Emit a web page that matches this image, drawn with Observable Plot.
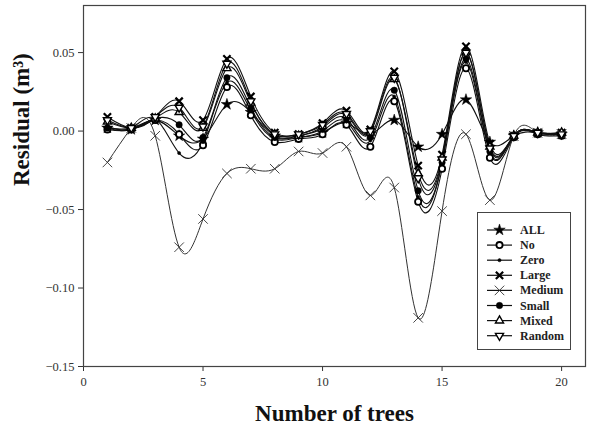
<!DOCTYPE html>
<html>
<head>
<meta charset="utf-8">
<script src="https://cdn.jsdelivr.net/npm/d3@7"></script>
<script src="https://cdn.jsdelivr.net/npm/@observablehq/plot@0.6"></script>
<style>
  body { margin: 0; background: #fff; }
  #wrap { position: relative; width: 600px; height: 431px; }
  #legend { position: absolute; left: 477px; top: 212px; width: 94px; height: 138px;
            border: 1px solid #444; background: #fff; box-sizing: border-box; }
  #chart svg text { font-family: 'Liberation Serif','Times New Roman',serif; }
</style>
</head>
<body>
<div id="wrap"><div id="chart"></div><div id="legend"></div></div>
<script>
const trees = [1,2,3,4,5,6,7,8,9,10,11,12,13,14,15,16,17,18,19,20];
const seriesNames = ["ALL","No","Zero","Large","Medium","Small","Mixed","Random"];
const ALL    = [0.002,0.001,0.007,-0.003,-0.005,0.017,0.012,-0.003,-0.004,-0.001,0.005,-0.002,0.007,-0.010,-0.002,0.020,-0.007,-0.003,-0.001,-0.002];
const No     = [0.001,0.001,0.007,-0.002,-0.009,0.028,0.010,-0.007,-0.005,-0.002,0.004,-0.010,0.019,-0.045,-0.024,0.040,-0.017,-0.004,-0.002,-0.003];
const Zero   = [0.003,0.002,0.008,-0.014,-0.007,0.031,0.013,-0.005,-0.004,0.000,0.006,-0.006,0.022,-0.042,-0.020,0.044,-0.014,-0.003,-0.001,-0.002];
const Large  = [0.009,0.002,0.009,0.019,0.007,0.046,0.022,-0.001,-0.002,0.005,0.013,0.001,0.038,-0.022,-0.015,0.054,-0.008,-0.003,-0.001,-0.001];
const Medium = [-0.020,0.002,-0.003,-0.074,-0.056,-0.027,-0.024,-0.024,-0.013,-0.014,-0.010,-0.041,-0.036,-0.119,-0.051,-0.002,-0.044,-0.003,-0.001,-0.002];
const Small  = [0.002,0.002,0.008,0.004,-0.004,0.034,0.015,-0.004,-0.003,0.002,0.008,-0.004,0.026,-0.038,-0.020,0.046,-0.013,-0.003,-0.001,-0.002];
const Mixed  = [0.006,0.002,0.008,0.012,0.002,0.040,0.018,-0.002,-0.003,0.003,0.010,-0.001,0.033,-0.027,-0.017,0.050,-0.010,-0.003,-0.001,-0.001];
const Random = [0.007,0.002,0.009,0.015,0.003,0.043,0.019,-0.002,-0.002,0.004,0.011,0.000,0.034,-0.030,-0.018,0.050,-0.011,-0.003,-0.001,-0.002];
const xTicks = [0,5,10,15,20];
const yTicks = [-0.15,-0.10,-0.05,0.00,0.05];

const values = [ALL,No,Zero,Large,Medium,Small,Mixed,Random];
const data = seriesNames.flatMap((s,i) => values[i].map((v,j) => ({x: trees[j], y: v, s})));

const sqrt3 = Math.sqrt(3);
const triDown = {draw(ctx, size) {
  const y = -Math.sqrt(size / (sqrt3 * 3));
  ctx.moveTo(0, -y * 2); ctx.lineTo(-sqrt3 * y, y); ctx.lineTo(sqrt3 * y, y); ctx.closePath();
}};

const styles = {
  ALL:    {symbol: d3.symbolStar, r: 3.6, fill: "#000", stroke: "#000", strokeWidth: 0.5},
  No:     {symbol: d3.symbolCircle, r: 3.1, fill: "#fff", stroke: "#000", strokeWidth: 1.8},
  Zero:   {symbol: d3.symbolCircle, r: 1.6, fill: "#000", stroke: "#000", strokeWidth: 0.5},
  Large:  {symbol: d3.symbolTimes, r: 3.4, fill: "none", stroke: "#000", strokeWidth: 2.2},
  Medium: {symbol: d3.symbolTimes, r: 4.4, fill: "none", stroke: "#333", strokeWidth: 0.9},
  Small:  {symbol: d3.symbolCircle, r: 3.2, fill: "#000", stroke: "#000", strokeWidth: 0.5},
  Mixed:  {symbol: d3.symbolTriangle, r: 3, fill: "#fff", stroke: "#000", strokeWidth: 1.4},
  Random: {symbol: triDown, r: 3, fill: "#fff", stroke: "#000", strokeWidth: 1.4}
};

const serif = "'Liberation Serif','Times New Roman',serif";

const chart = Plot.plot({
  width: 600, height: 431,
  marginLeft: 83, marginRight: 15, marginTop: 5, marginBottom: 65,
  style: {fontFamily: serif, background: "#fff", color: "#333"},
  x: {domain: [0, 21], label: null},
  y: {domain: [-0.15, 0.08], label: null},
  marks: [
    Plot.axisX({ticks: xTicks, tickSize: 5, tickPadding: 6, fontSize: 12.5, fontFamily: serif, label: null, stroke: "#333"}),
    Plot.axisY({ticks: yTicks, tickSize: 5, tickPadding: 4, fontSize: 12.5, fontFamily: serif, label: null, tickFormat: d3.format(".2f"), stroke: "#333"}),
    ...seriesNames.map(s => Plot.line(data.filter(d => d.s === s), {
      x: "x", y: "y", curve: "natural",
      stroke: s === "Medium" ? "#333" : "#111", strokeWidth: s === "Medium" ? 1 : 1.1
    })),
    ...seriesNames.map(s => Plot.dot(data.filter(d => d.s === s), {
      x: "x", y: "y", ...styles[s]
    })),
    Plot.frame({stroke: "#444", strokeWidth: 1.2}),
    Plot.text(["Number of trees"], {frameAnchor: "bottom", dy: 54, fontSize: 23, fontWeight: "bold", fill: "#111", fontFamily: serif}),
    Plot.text(["Residual (m³)"], {frameAnchor: "left", rotate: -90, dx: -62, fontSize: 23, fontWeight: "bold", fill: "#111", fontFamily: serif})
  ]
});
document.getElementById("chart").appendChild(chart);

// legend
const lg = d3.select("#legend").append("svg").attr("width", 92).attr("height", 136);
seriesNames.forEach((s, i) => {
  const st = styles[s];
  const g = lg.append("g").attr("transform", `translate(0,${17 + i * 15.1})`);
  g.append("line").attr("x1", 9).attr("x2", 34).attr("y1", 0).attr("y2", 0)
    .attr("stroke", "#111").attr("stroke-width", 1.2);
  g.append("path").attr("transform", "translate(21.5,0)")
    .attr("d", d3.symbol(st.symbol, Math.PI * st.r * st.r)())
    .attr("fill", st.fill).attr("stroke", st.stroke).attr("stroke-width", st.strokeWidth);
  g.append("text").attr("x", 42).attr("y", 4).text(s)
    .attr("font-family", serif).attr("font-weight", "bold").attr("font-size", 12).attr("fill", "#222");
});
</script>
</body>
</html>
